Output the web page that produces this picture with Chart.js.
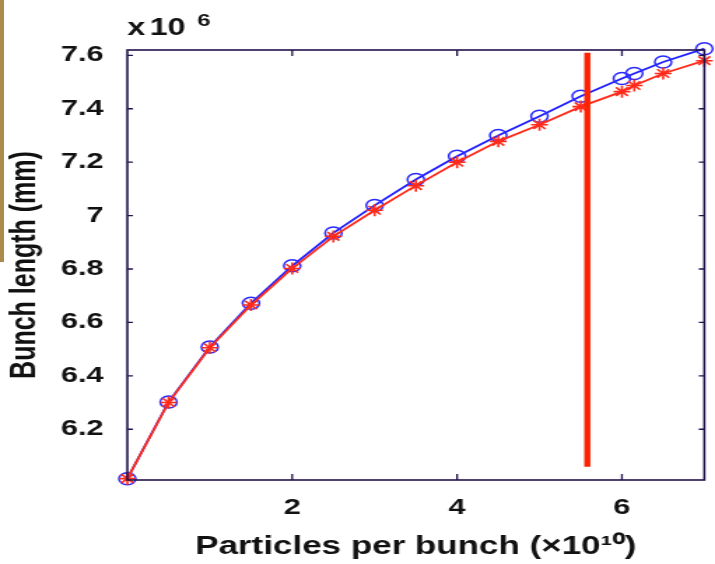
<!DOCTYPE html>
<html>
<head>
<meta charset="utf-8">
<script src="https://cdn.jsdelivr.net/npm/chart.js@4/dist/chart.umd.min.js"></script>
<style>
  html, body { margin: 0; padding: 0; background: #ffffff; overflow: hidden; }
  #wrap { position: relative; width: 715px; height: 564px; }
  /* the source figure is stretched sideways, so the canvas is too */
  #plot { position: absolute; left: 0; top: 0; width: 511px; height: 564px;
          transform: scaleX(1.3992); transform-origin: 0 0; }
  #stripe { position: absolute; left: 0; top: 0; width: 4px; height: 262px; background: #ab8a4c; }
</style>
</head>
<body>
<div id="wrap">
  <div id="plot"><canvas id="bunchChart" width="511" height="564"></canvas></div>
  <div id="stripe"></div>
</div>
<script>
// particles per bunch (x1e10)
const particles = [0, 0.5, 1, 1.5, 2, 2.5, 3, 3.5, 4, 4.5, 5, 5.5, 6, 6.15, 6.5, 7];
// bunch length, circles (blue) and stars (red)
const blueLength = [6.015, 6.302, 6.508, 6.672, 6.812, 6.935, 7.038, 7.135, 7.222, 7.300, 7.372, 7.447, 7.513, 7.532, 7.575, 7.625];
const redLength  = [6.015, 6.300, 6.505, 6.665, 6.802, 6.922, 7.020, 7.112, 7.200, 7.278, 7.340, 7.408, 7.464, 7.487, 7.532, 7.580];
// vertical marker line
const markerX = [5.58, 5.58];
const markerY = [6.06, 7.61];

const xTicks = [2, 4, 6];
const yTicks = [6.2, 6.4, 6.6, 6.8, 7, 7.2, 7.4, 7.6];

const axisColor = '#22124a';
const fontFamily = "'Liberation Sans', Arial, Helvetica, sans-serif";

function toPoints(xs, ys) {
  return xs.map((x, i) => ({ x: x, y: ys[i] }));
}

// frame with inward ticks on all four sides, plus the exponent label
const boxTicks = {
  id: 'boxTicks',
  afterDatasetsDraw(chart) {
    const { ctx, chartArea: a, scales } = chart;
    ctx.save();
    ctx.strokeStyle = axisColor;
    ctx.lineWidth = 1.6;
    ctx.strokeRect(a.left, a.top, a.right - a.left, a.bottom - a.top);
    ctx.lineWidth = 1.3;
    ctx.beginPath();
    xTicks.forEach(v => {
      const px = scales.x.getPixelForValue(v);
      ctx.moveTo(px, a.bottom); ctx.lineTo(px, a.bottom - 6);
      ctx.moveTo(px, a.top); ctx.lineTo(px, a.top + 6);
    });
    yTicks.forEach(v => {
      const py = scales.y.getPixelForValue(v);
      ctx.moveTo(a.left, py); ctx.lineTo(a.left + 4, py);
      ctx.moveTo(a.right, py); ctx.lineTo(a.right - 4, py);
    });
    ctx.stroke();

    ctx.fillStyle = '#111';
    ctx.textBaseline = 'alphabetic';
    ctx.font = 'bold 23px ' + fontFamily;
    ctx.fillText('x', a.left, a.top - 15);
    ctx.fillText('10', a.left + 16, a.top - 15);
    ctx.font = 'bold 17px ' + fontFamily;
    ctx.fillText('6', a.left + 50, a.top - 24);
    ctx.restore();
  }
};

new Chart(document.getElementById('bunchChart'), {
  type: 'scatter',
  data: {
    datasets: [
      {
        data: toPoints(markerX, markerY),
        showLine: true,
        borderColor: '#ff2200',
        borderWidth: 4.4,
        borderCapStyle: 'butt',
        pointRadius: 0
      },
      {
        data: toPoints(particles, redLength),
        showLine: true,
        borderColor: '#ff2a1a',
        borderWidth: 1.8,
        pointStyle: 'star',
        pointRadius: 6,
        pointBorderWidth: 1.6,
        pointBorderColor: '#ff2a1a',
        pointBackgroundColor: 'rgba(0,0,0,0)',
        clip: false
      },
      {
        data: toPoints(particles, blueLength),
        showLine: true,
        borderColor: '#1f1fff',
        borderWidth: 1.8,
        pointStyle: 'circle',
        pointRadius: 6,
        pointBorderWidth: 1.5,
        pointBorderColor: '#2a2aff',
        pointBackgroundColor: 'rgba(0,0,0,0)',
        clip: false
      }
    ]
  },
  options: {
    responsive: false,
    animation: false,
    layout: { padding: { top: 50, right: 3, left: 0, bottom: 0 } },
    plugins: {
      legend: { display: false },
      tooltip: { enabled: false }
    },
    scales: {
      x: {
        type: 'linear',
        min: 0,
        max: 7,
        afterBuildTicks: scale => { scale.ticks = xTicks.map(v => ({ value: v })); },
        afterFit: scale => { scale.height = 84; },
        grid: { display: false },
        border: { display: false },
        ticks: {
          color: '#111',
          padding: 7,
          font: { family: fontFamily, size: 22, weight: 'bold' }
        },
        title: {
          display: true,
          text: 'Particles per bunch (\u00d710\u00b9\u2070)',
          color: '#111',
          padding: { top: 0, bottom: 2 },
          font: { family: fontFamily, size: 25, weight: 'bold' }
        }
      },
      y: {
        type: 'linear',
        min: 6.01,
        max: 7.62,
        afterBuildTicks: scale => { scale.ticks = yTicks.map(v => ({ value: v })); },
        afterFit: scale => { scale.width = 91; },
        grid: { display: false },
        border: { display: false },
        ticks: {
          color: '#111',
          padding: 9,
          callback: v => String(v),
          font: { family: fontFamily, size: 22, weight: 'bold' }
        },
        title: {
          display: true,
          text: 'Bunch length (mm)',
          color: '#111',
          padding: { top: 3, bottom: 0 },
          font: { family: fontFamily, size: 25, weight: 'bold' }
        }
      }
    }
  },
  plugins: [boxTicks]
});
</script>
</body>
</html>
